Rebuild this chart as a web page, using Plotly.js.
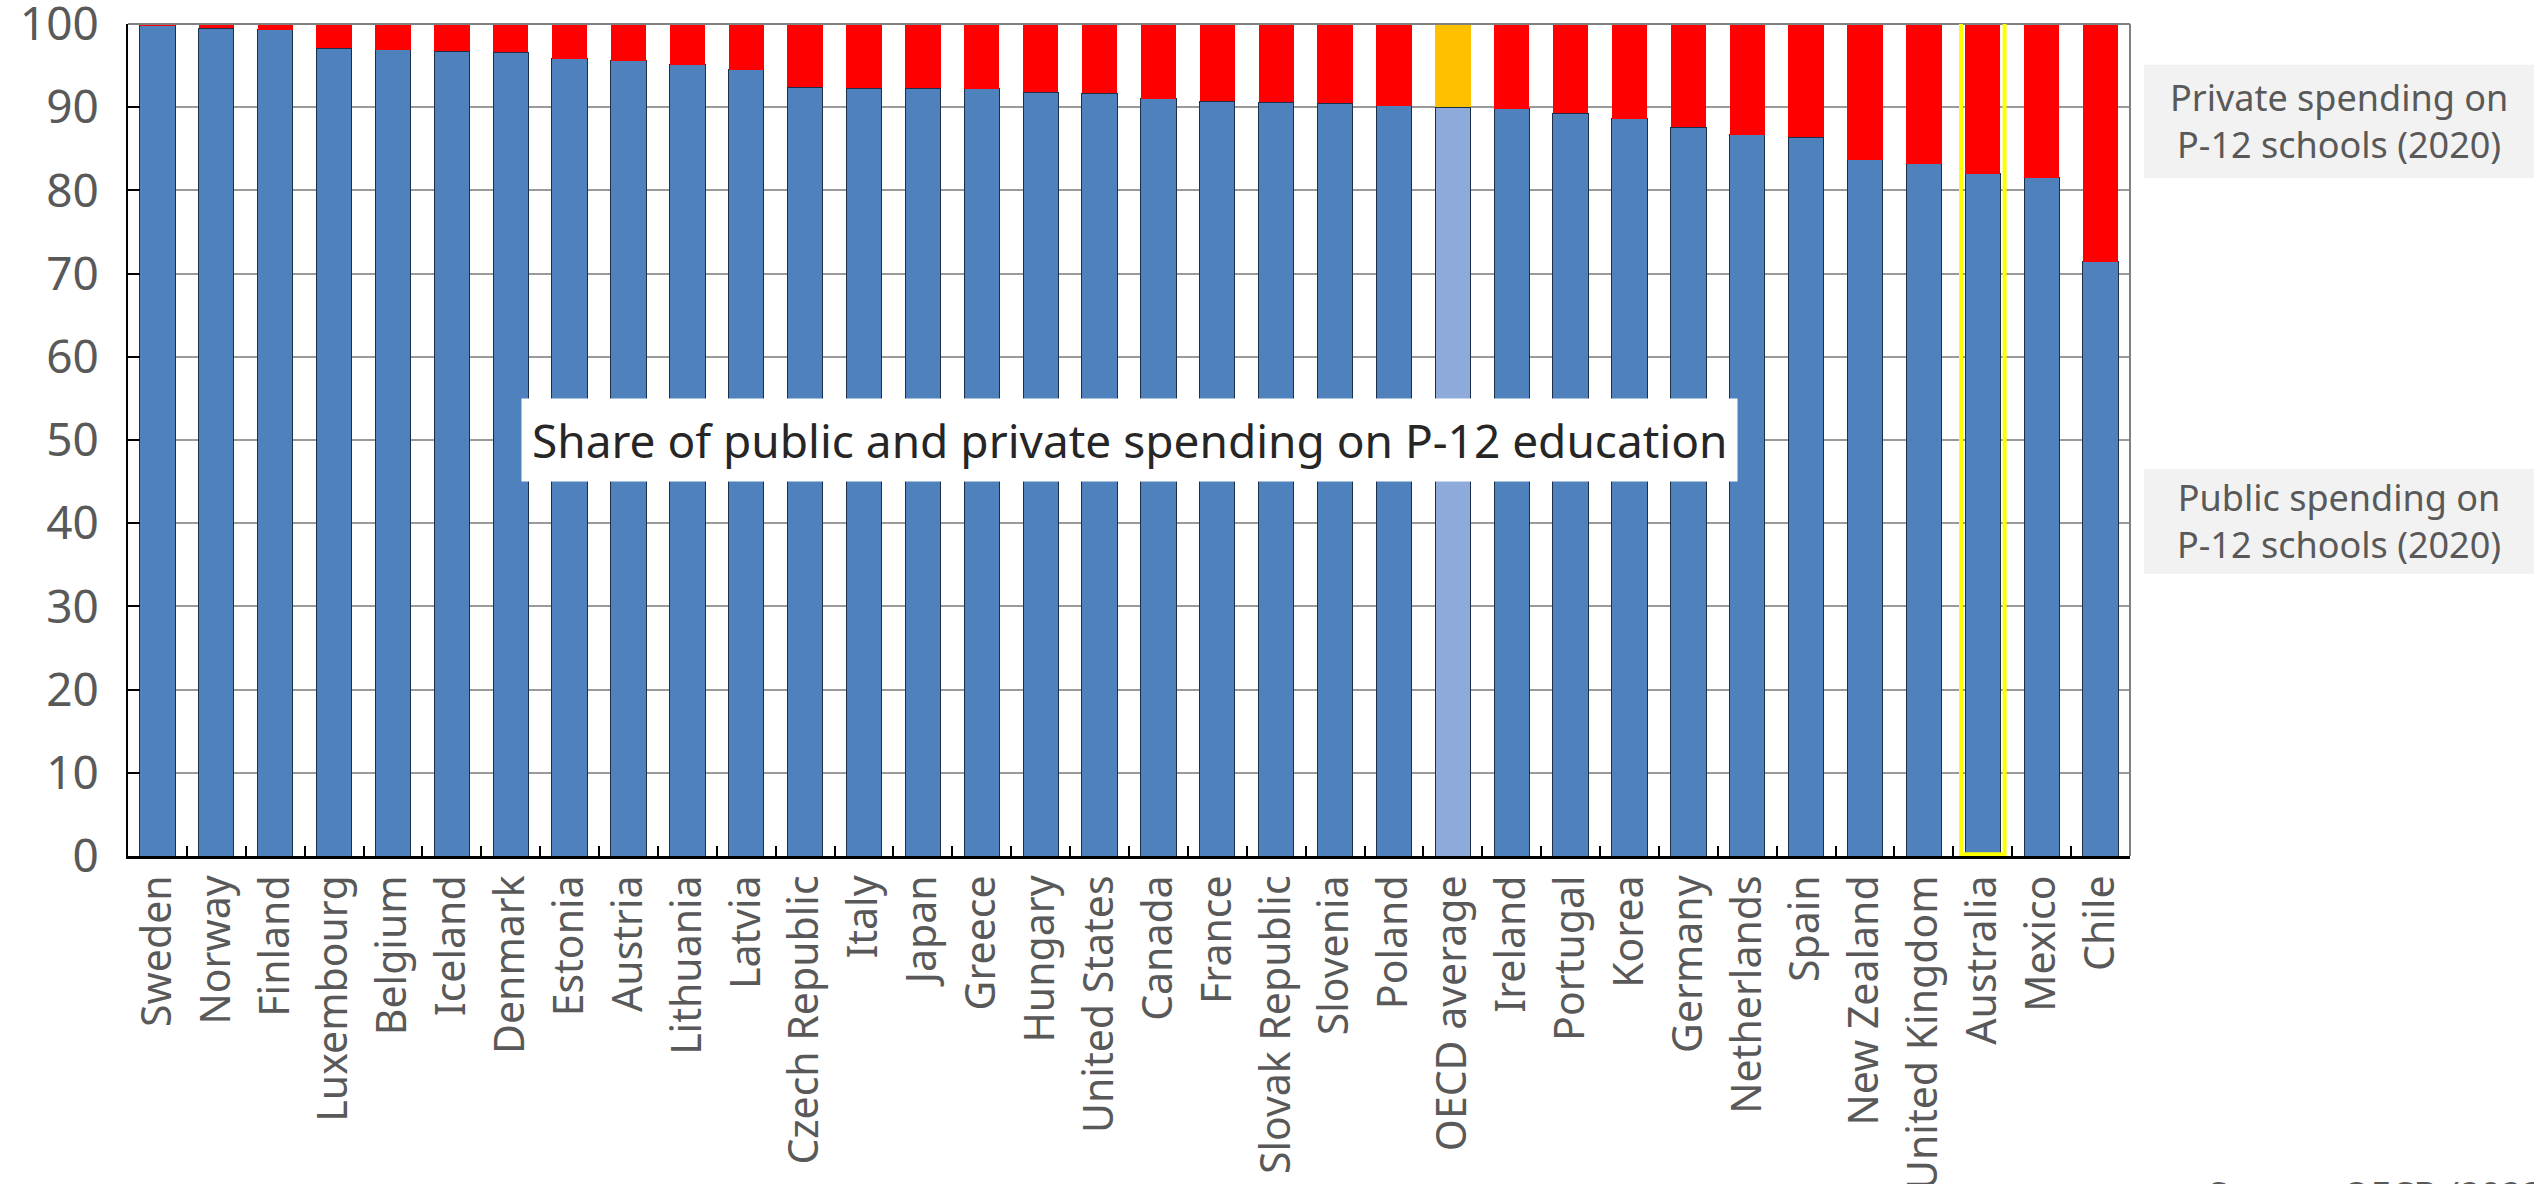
<!DOCTYPE html>
<html>
<head>
<meta charset="utf-8">
<script src="https://cdn.plot.ly/plotly-3.0.1.min.js"></script>
<style>
  html, body { margin: 0; padding: 0; background: #ffffff; }
  #chart { width: 2534px; height: 1184px; }
</style>
</head>
<body>
<div id="chart"></div>
<script>
// Countries, ordered by public share of P-12 spending
const countries = ["Sweden", "Norway", "Finland", "Luxembourg", "Belgium", "Iceland", "Denmark",
  "Estonia", "Austria", "Lithuania", "Latvia", "Czech Republic", "Italy", "Japan", "Greece",
  "Hungary", "United States", "Canada", "France", "Slovak Republic", "Slovenia", "Poland",
  "OECD average", "Ireland", "Portugal", "Korea", "Germany", "Netherlands", "Spain",
  "New Zealand", "United Kingdom", "Australia", "Mexico", "Chile"];

// Public share of spending on P-12 schools, 2020 (%)
const publicShare = [99.8, 99.5, 99.3, 97.1, 96.9, 96.7, 96.6, 95.8, 95.6, 95.1, 94.5, 92.4,
  92.3, 92.3, 92.2, 91.8, 91.7, 91.0, 90.7, 90.6, 90.5, 90.2, 90.0, 89.8, 89.3, 88.6, 87.6,
  86.7, 86.4, 83.7, 83.2, 82.0, 81.5, 71.4];

// Private share of spending on P-12 schools, 2020 (%)
const privateShare = [0.2, 0.5, 0.7, 2.9, 3.1, 3.3, 3.4, 4.2, 4.4, 4.9, 5.5, 7.6,
  7.7, 7.7, 7.8, 8.2, 8.3, 9.0, 9.3, 9.4, 9.5, 9.8, 10.0, 10.2, 10.7, 11.4, 12.4,
  13.3, 13.6, 16.3, 16.8, 18.0, 18.5, 28.6];

const yTicks = [0, 10, 20, 30, 40, 50, 60, 70, 80, 90, 100];

const averageLabel = "OECD average";
const highlighted = "Australia";

const BLUE = "#4F81BD", BLUE_AVG = "#8EAADB", RED = "#FF0000", GOLD = "#FFC000";
const TEXT = "#595959";
const FONT = "Noto Sans, sans-serif";

const publicColors = countries.map(c => c === averageLabel ? BLUE_AVG : BLUE);
const privateColors = countries.map(c => c === averageLabel ? GOLD : RED);

const traces = [
  {
    type: "bar", name: "Public", x: countries, y: publicShare,
    marker: { color: publicColors, line: { color: "#1c2f4a", width: 1 } },
    hoverinfo: "x+y"
  },
  {
    type: "bar", name: "Private", x: countries, y: privateShare,
    marker: { color: privateColors, line: { width: 0 } },
    hoverinfo: "x+y"
  }
];

const hi = countries.indexOf(highlighted);

const layout = {
  width: 2534, height: 1184,
  margin: { l: 128, r: 404, t: 24, b: 328 },
  paper_bgcolor: "#ffffff", plot_bgcolor: "#ffffff",
  barmode: "stack", bargap: 0.4,
  showlegend: false,
  font: { family: FONT, color: TEXT },
  xaxis: {
    type: "category",
    tickangle: -90,
    tickson: "boundaries",
    ticks: "inside", ticklen: 10, tickwidth: 2, tickcolor: "#000000",
    showline: true, linecolor: "#000000", linewidth: 3,
    showgrid: false, zeroline: false,
    tickfont: { family: FONT, size: 41, color: TEXT },
    ticklabelstandoff: 0,
    automargin: false
  },
  yaxis: {
    range: [0, 100],
    tickvals: yTicks, ticktext: yTicks.map(String),
    ticks: "inside", ticklen: 12, tickwidth: 2, tickcolor: "#000000",
    showline: true, linecolor: "#000000", linewidth: 2,
    showgrid: true, gridcolor: "#9a9a9a", gridwidth: 2,
    zeroline: false,
    tickfont: { family: FONT, size: 46, color: TEXT },
    ticklabelstandoff: 18,
    ticklabeloverflow: "allow",
    automargin: false
  },
  shapes: [
    // frame: top and right edges
    { type: "line", xref: "paper", yref: "paper", x0: 0, x1: 1, y0: 1, y1: 1,
      line: { color: "#808080", width: 2 } },
    { type: "line", xref: "paper", yref: "paper", x0: 1, x1: 1, y0: 0, y1: 1,
      line: { color: "#808080", width: 2 } },
    // highlight box around one country
    { type: "rect", xref: "x", yref: "y", x0: hi - 0.37, x1: hi + 0.37, y0: 0.2, y1: 100.6,
      line: { color: "#FFFF00", width: 4 }, fillcolor: "rgba(0,0,0,0)" },
    // side label panels
    { type: "rect", xref: "paper", yref: "paper", x0: 1.007, x1: 1.21, y0: 0.815, y1: 0.951,
      line: { width: 0 }, fillcolor: "#F2F2F2" },
    { type: "rect", xref: "paper", yref: "paper", x0: 1.007, x1: 1.21, y0: 0.339, y1: 0.465,
      line: { width: 0 }, fillcolor: "#F2F2F2" }
  ],
  annotations: [
    {
      xref: "paper", yref: "y", x: 0.5, y: 50, xanchor: "center", yanchor: "middle",
      text: "Share of public and private spending on P-12 education",
      showarrow: false, bgcolor: "#ffffff", borderpad: 10,
      font: { family: FONT, size: 46, color: "#262626" }
    },
    {
      xref: "paper", yref: "paper", x: 1.1044, y: 0.883, xanchor: "center", yanchor: "middle",
      text: "Private spending on<br>P-12 schools (2020)",
      showarrow: false, align: "center",
      font: { family: FONT, size: 36, color: TEXT }
    },
    {
      xref: "paper", yref: "paper", x: 1.1044, y: 0.4026, xanchor: "center", yanchor: "middle",
      text: "Public spending on<br>P-12 schools (2020)",
      showarrow: false, align: "center",
      font: { family: FONT, size: 36, color: TEXT }
    },
    {
      xref: "paper", yref: "paper", x: 1.038, y: -0.375,
      xanchor: "left", yanchor: "top",
      text: "Source: OECD (2022)",
      showarrow: false,
      font: { family: FONT, size: 36, color: TEXT }
    }
  ]
};

Plotly.newPlot("chart", traces, layout, { displayModeBar: false, staticPlot: true });
</script>
</body>
</html>
